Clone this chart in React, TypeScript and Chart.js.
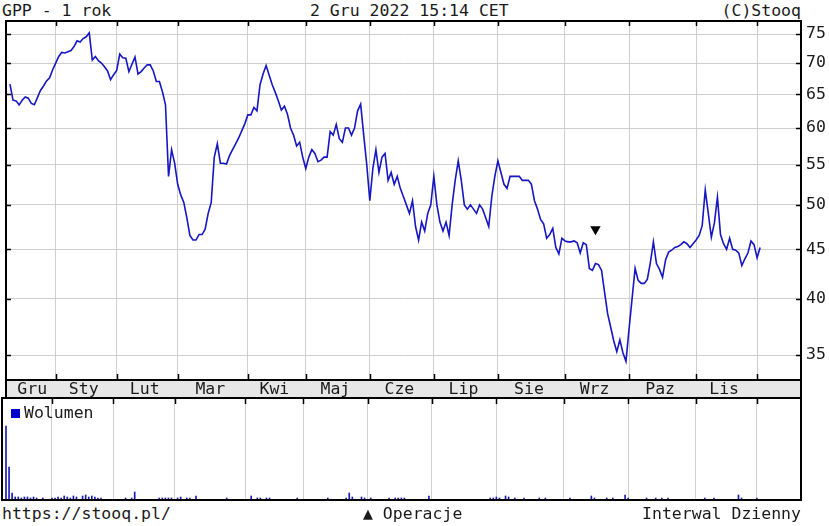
import React, { useEffect, useRef } from "react";
import { Chart, registerables } from "chart.js";

Chart.register(...registerables);

// ---------------- data ----------------
const monthLabels = ["Gru", "Sty", "Lut", "Mar", "Kwi", "Maj", "Cze", "Lip", "Sie", "Wrz", "Paz", "Lis"];
// trading-day index at which each following month begins (Sty ... Gru 2022)
const monthStarts = [15, 35, 55, 78, 97, 118, 139, 160, 182, 203, 225, 245];
const priceTicks = [35, 40, 45, 50, 55, 60, 65, 70, 75];

const closePrices = [
  66.6, 64.1, 64.0, 63.4, 64.1, 64.6, 64.4, 63.6, 63.4, 64.5,
  65.6, 66.3, 67.1, 67.6, 68.9, 70.0, 71.1, 71.8, 71.7, 71.9,
  72.1, 72.8, 73.8, 73.6, 74.2, 74.5, 75.2, 70.5, 71.1, 70.4,
  70.0, 69.4, 68.7, 67.3, 68.1, 68.8, 71.5, 70.9, 70.8, 68.6,
  69.8, 71.0, 68.2, 68.6, 69.2, 69.7, 69.7, 68.7, 67.0, 67.0,
  65.4, 63.4, 53.5, 57.0, 55.2, 52.5, 51.2, 50.3, 48.5, 46.5,
  46.0, 46.0, 46.6, 46.6, 47.2, 49.0, 50.3, 56.0, 57.8, 55.2,
  55.2, 55.1, 56.2, 57.0, 57.8, 58.6, 59.6, 60.6, 61.9, 61.9,
  63.0, 62.5, 66.5, 68.2, 69.6, 68.0, 66.5, 65.3, 64.0, 62.6,
  63.2, 62.0, 60.0, 59.0, 57.5, 58.0, 56.0, 54.5, 56.0, 57.0,
  56.5, 55.4, 55.6, 56.0, 56.0, 59.5, 59.0, 60.5, 58.5, 58.0,
  60.0, 60.0, 59.0, 60.0, 62.5, 63.5, 59.0, 55.0, 50.5, 54.5,
  57.0, 54.0, 56.0, 56.5, 53.0, 54.0, 52.5, 53.5, 52.0, 51.0,
  50.0, 49.0, 50.5, 47.5, 46.0, 48.0, 47.0, 49.0, 50.0, 53.5,
  50.0, 48.0, 47.0, 48.0, 46.5, 50.0, 53.0, 55.5, 53.0, 50.0,
  49.5, 50.0, 49.5, 49.0, 50.0, 49.5, 48.5, 47.5, 51.0, 53.5,
  55.5, 54.0, 52.5, 52.0, 53.5, 53.5, 53.5, 53.5, 53.0, 53.0,
  53.0, 52.5, 50.5, 49.5, 48.3, 47.8, 46.2, 46.6, 47.3, 45.2,
  44.5, 46.2, 45.9, 45.8, 45.8, 45.9, 45.7, 44.6, 45.7, 45.5,
  43.0, 42.8, 43.5, 43.4, 42.8, 40.6, 38.6, 37.4, 36.2, 35.3,
  36.3, 35.2, 34.5, 37.2, 40.0, 43.0, 41.8, 41.5, 41.5, 41.9,
  43.6, 45.8, 43.5, 42.9, 42.1, 43.9, 44.7, 44.9, 45.2, 45.3,
  45.5, 45.8, 45.6, 45.2, 45.6, 46.0, 46.5, 47.6, 51.8, 49.0,
  46.3, 47.9, 50.9, 46.6, 45.6, 45.0, 46.2, 45.0, 44.9, 44.6,
  43.3, 44.0, 44.6, 45.9, 45.5, 44.1, 45.2,
];

const volumes = [
  74, 33, 7, 3, 3, 2, 3, 3, 2, 3,
  2, 0, 2, 0, 0, 2, 2, 3, 2, 4,
  3, 2, 4, 3, 0, 4, 5, 3, 4, 3,
  2, 2, 0, 0, 0, 0, 0, 0, 0, 2,
  0, 2, 8, 0, 0, 0, 0, 0, 0, 0,
  2, 2, 2, 2, 2, 0, 2, 3, 0, 2,
  2, 0, 4, 0, 0, 0, 0, 0, 0, 0,
  0, 0, 2, 0, 0, 0, 0, 0, 0, 0,
  4, 0, 2, 2, 0, 2, 2, 0, 0, 0,
  0, 0, 0, 0, 0, 2, 0, 0, 0, 0,
  0, 0, 0, 0, 0, 2, 0, 0, 0, 0,
  0, 2, 7, 3, 0, 0, 3, 2, 0, 2,
  0, 0, 0, 0, 0, 2, 0, 2, 2, 2,
  2, 0, 0, 0, 0, 0, 0, 0, 4, 0,
  0, 0, 0, 0, 0, 0, 0, 0, 0, 0,
  0, 0, 0, 0, 0, 0, 0, 0, 2, 2,
  3, 2, 0, 4, 3, 0, 2, 0, 0, 2,
  0, 0, 0, 0, 2, 0, 2, 0, 0, 0,
  0, 0, 0, 0, 2, 0, 0, 0, 0, 0,
  0, 4, 2, 0, 0, 0, 2, 0, 2, 0,
  0, 0, 5, 2, 0, 0, 0, 0, 0, 2,
  0, 0, 2, 0, 2, 0, 2, 0, 0, 0,
  0, 0, 0, 0, 0, 0, 0, 0, 2, 0,
  0, 2, 0, 0, 0, 0, 0, 0, 0, 5,
  2, 0, 0, 0, 0, 2, 0,
];

// operation marker (triangle) : trading-day index and price level
const operationIndex = [192];
const operationLevel = [47.2];

// ---------------- styles ----------------
const FONT = '"DejaVu Sans Mono", monospace';
const FONT_SIZE = 16.5;
const TEXT = "#1a1a1a";
const GRID = "#cfcfcf";
const LINE = "#1616c2";
const VOL = "#1a1ab4";
const X_MIN = -1.3;
const X_MAX = 259.4;
const FIRST_LABEL_FROM = 1.2;

const monthMids = monthStarts.map((s, k) => ((k === 0 ? FIRST_LABEL_FROM : monthStarts[k - 1]) + s) / 2 - 0.8);

Chart.defaults.font.family = FONT;
Chart.defaults.font.size = FONT_SIZE;
Chart.defaults.color = TEXT;

function drawFrame(ctx: CanvasRenderingContext2D, l: number, t: number, r: number, b: number) {
  ctx.beginPath();
  ctx.moveTo(l, t);
  ctx.lineTo(r, t);
  ctx.lineTo(r, b);
  ctx.lineTo(l, b);
  ctx.closePath();
  ctx.stroke();
}

const topFrame = {
  id: "topFrame",
  beforeDraw(chart: any) {
    const { ctx, chartArea: a } = chart;
    const xm = chart.scales.xm;
    ctx.save();
    ctx.fillStyle = "#e7e7e7";
    ctx.fillRect(a.left, xm.top, a.right - a.left, xm.bottom - xm.top);
    ctx.restore();
  },
  afterDraw(chart: any) {
    const { ctx, chartArea: a } = chart;
    const xs = chart.scales.x;
    const ys = chart.scales.y;
    const xm = chart.scales.xm;
    ctx.save();
    ctx.strokeStyle = "#000";
    ctx.lineWidth = 2;
    drawFrame(ctx, a.left, a.top, a.right, a.bottom);
    drawFrame(ctx, a.left, xm.top, a.right, xm.bottom);
    ctx.lineWidth = 1.5;
    ctx.beginPath();
    xs.ticks.forEach((t: any) => {
      const px = Math.round(xs.getPixelForValue(t.value)) + 0.5;
      ctx.moveTo(px, a.top);
      ctx.lineTo(px, a.top + 5);
      ctx.moveTo(px, a.bottom);
      ctx.lineTo(px, a.bottom - 6);
    });
    ys.ticks.forEach((t: any) => {
      const py = Math.round(ys.getPixelForValue(t.value)) + 0.5;
      ctx.moveTo(a.left, py);
      ctx.lineTo(a.left + 5, py);
      ctx.moveTo(a.right, py);
      ctx.lineTo(a.right - 5, py);
    });
    ctx.stroke();
    ctx.restore();
  },
};

const volFrame = {
  id: "volFrame",
  afterDraw(chart: any) {
    const { ctx, chartArea: a } = chart;
    const xs = chart.scales.x;
    ctx.save();
    ctx.strokeStyle = "#000";
    ctx.lineWidth = 2;
    drawFrame(ctx, a.left, a.top, a.right, a.bottom);
    ctx.lineWidth = 1.5;
    ctx.beginPath();
    xs.ticks.forEach((t: any) => {
      const px = Math.round(xs.getPixelForValue(t.value)) + 0.5;
      ctx.moveTo(px, a.top);
      ctx.lineTo(px, a.top + 6);
    });
    ctx.stroke();
    ctx.restore();
  },
};

const boundaryTicks = (s: any) => {
  s.ticks = monthStarts.map((v) => ({ value: v }));
};

export default function App() {
  const topRef = useRef<HTMLCanvasElement>(null);
  const volRef = useRef<HTMLCanvasElement>(null);

  useEffect(() => {
    const priceChart = new Chart(topRef.current as HTMLCanvasElement, {
      type: "line",
      data: {
        datasets: [
          {
            data: closePrices.map((v, i) => ({ x: i, y: v })),
            borderColor: LINE,
            borderWidth: 1.6,
            pointRadius: 0,
            tension: 0,
            fill: false,
          },
          {
            data: operationIndex.map((v, i) => ({ x: v, y: operationLevel[i] })),
            showLine: false,
            pointStyle: "triangle",
            rotation: 180,
            pointRadius: 6,
            pointBackgroundColor: "#000",
            pointBorderColor: "#000",
            pointBorderWidth: 0,
          },
        ],
      } as any,
      options: {
        animation: false,
        responsive: false,
        events: [],
        layout: { padding: { top: 21, left: 2, right: 0, bottom: 2 } },
        plugins: { legend: { display: false }, tooltip: { enabled: false } },
        scales: {
          x: {
            type: "linear",
            min: X_MIN,
            max: X_MAX,
            offset: false,
            position: "bottom",
            afterBuildTicks: boundaryTicks,
            afterFit: (s: any) => {
              s.height = 0;
            },
            grid: { color: GRID, lineWidth: 1, drawTicks: false },
            border: { display: false },
            ticks: { display: false },
          },
          xm: {
            type: "linear",
            min: X_MIN,
            max: X_MAX,
            offset: false,
            position: "bottom",
            afterBuildTicks: (s: any) => {
              s.ticks = monthMids.map((v) => ({ value: v }));
            },
            afterFit: (s: any) => {
              s.height = 18;
            },
            grid: { display: false, drawTicks: false },
            border: { display: false },
            ticks: {
              autoSkip: false,
              maxRotation: 0,
              padding: 0,
              color: TEXT,
              font: { family: FONT, size: FONT_SIZE },
              callback: (_v: any, i: number) => monthLabels[i],
            },
          },
          y: {
            type: "logarithmic",
            position: "right",
            min: 33,
            max: 77.35,
            afterBuildTicks: (s: any) => {
              s.ticks = priceTicks.map((v) => ({ value: v }));
            },
            afterFit: (s: any) => {
              s.width = 28;
            },
            grid: { color: GRID, lineWidth: 1, drawTicks: false },
            border: { display: false },
            ticks: {
              padding: 5,
              color: TEXT,
              font: { family: FONT, size: FONT_SIZE },
              callback: (v: any) => String(v),
            },
          },
        },
      } as any,
      plugins: [topFrame],
    });

    const volChart = new Chart(volRef.current as HTMLCanvasElement, {
      type: "bar",
      data: {
        datasets: [
          {
            data: volumes.map((v, i) => ({ x: i, y: v })),
            backgroundColor: VOL,
            borderWidth: 0,
            barThickness: 1,
            grouped: false,
          },
        ],
      } as any,
      options: {
        animation: false,
        responsive: false,
        events: [],
        layout: { padding: { top: 2, left: 2, right: 28, bottom: 2 } },
        plugins: { legend: { display: false }, tooltip: { enabled: false } },
        scales: {
          x: {
            type: "linear",
            min: X_MIN,
            max: X_MAX,
            offset: false,
            afterBuildTicks: boundaryTicks,
            afterFit: (s: any) => {
              s.height = 0;
            },
            grid: { color: GRID, lineWidth: 1, drawTicks: false, offset: false },
            border: { display: false },
            ticks: { display: false },
          },
          y: { min: 0, max: 102, display: false },
        },
      } as any,
      plugins: [volFrame],
    });

    return () => {
      priceChart.destroy();
      volChart.destroy();
    };
  }, []);

  const text: React.CSSProperties = {
    position: "absolute",
    whiteSpace: "pre",
    fontFamily: FONT,
    fontSize: FONT_SIZE + "px",
    lineHeight: "19px",
    color: TEXT,
  };

  return (
    <div style={{ position: "fixed", left: 0, top: 0, width: 829, height: 526, background: "#fff", overflow: "hidden" }}>
      <span style={{ ...text, left: 2, top: 1 }}>GPP - 1 rok</span>
      <span style={{ ...text, left: 310, top: 1 }}>2 Gru 2022 15:14 CET</span>
      <span style={{ ...text, right: 28, top: 1 }}>(C)Stooq</span>
      <canvas ref={topRef} width={829} height={400} style={{ position: "absolute", left: 0, top: 0 }} />
      <canvas ref={volRef} width={829} height={106} style={{ position: "absolute", left: 0, top: 396 }} />
      <span style={{ position: "absolute", left: 11, top: 409, width: 9, height: 9, background: "#0000cc" }} />
      <span style={{ ...text, left: 24, top: 403 }}>Wolumen</span>
      <span style={{ ...text, left: 2, top: 504 }}>https://stooq.pl/</span>
      <span style={{ ...text, left: 363, top: 504 }}>▲ Operacje</span>
      <span style={{ ...text, right: 28, top: 504 }}>Interwal Dzienny</span>
    </div>
  );
}
